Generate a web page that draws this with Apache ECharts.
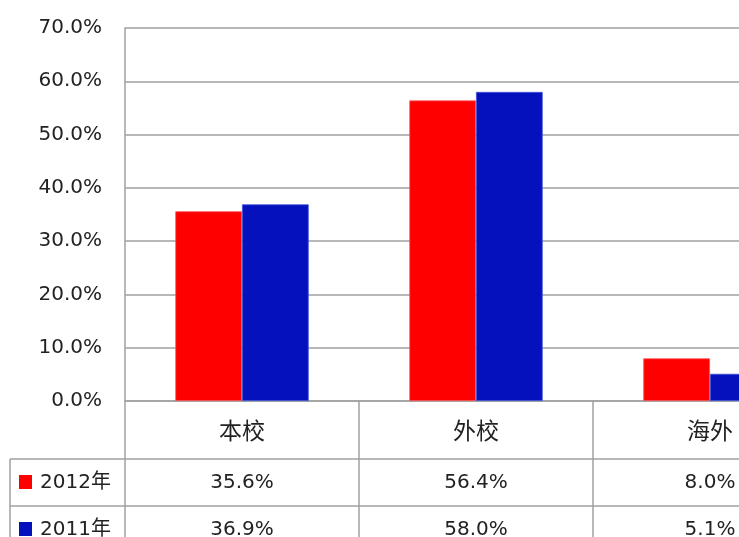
<!DOCTYPE html>
<html><head><meta charset="utf-8">
<script src="https://cdn.jsdelivr.net/npm/echarts@6/dist/echarts.min.js"></script>
<style>html,body{margin:0;padding:0;background:#fff}#c{width:739px;height:537px}</style>
</head><body><div id="c"></div>
<script>
const categories = ['本校', '外校', '海外'];
const seriesNames = ['2012年', '2011年'];
const values2012 = [35.6, 56.4, 8.0];
const values2011 = [36.9, 58.0, 5.1];
const colors = ['#FF0000', '#0511BC'];

const chart = echarts.init(document.getElementById('c'));
const numFont = 'DejaVu Sans, Verdana, sans-serif';
const cjkFont = 'Noto Sans CJK SC, sans-serif';
const lineColor = '#A0A0A0';

chart.setOption({
  animation: false,
  grid: { left: 125, width: 702, top: 28, bottom: 136, containLabel: false, outerBoundsMode: 'none' },
  xAxis: {
    type: 'category', data: categories,
    axisLine: { show: true, lineStyle: { color: lineColor, width: 1.5 } },
    axisTick: { show: false },
    axisLabel: { margin: 29, verticalAlign: 'middle', fontSize: 23, color: '#222', fontFamily: cjkFont }
  },
  yAxis: {
    type: 'value', min: 0, max: 70, interval: 10,
    axisLine: { show: true, lineStyle: { color: lineColor, width: 1.5 } },
    axisTick: { show: false },
    splitLine: { lineStyle: { color: lineColor, width: 1.5 } },
    axisLabel: { margin: 23, fontSize: 20, color: '#222', fontFamily: numFont, formatter: v => v.toFixed(1) + '%' }
  },
  series: [
    { name: seriesNames[0], type: 'bar', data: values2012, barGap: '0%', barCategoryGap: '43%',
      itemStyle: { color: colors[0], borderColor: '#FF5050', borderWidth: 0.8 } },
    { name: seriesNames[1], type: 'bar', data: values2011, barGap: '0%', barCategoryGap: '43%',
      itemStyle: { color: colors[1], borderColor: '#4050D8', borderWidth: 0.8 } }
  ]
});

// Data table below the axis
const y0 = chart.convertToPixel({ yAxisIndex: 0 }, 0);
const x0 = chart.convertToPixel({ xAxisIndex: 0 }, 0);
const x1 = chart.convertToPixel({ xAxisIndex: 0 }, 1);
const catW = x1 - x0;
const left = x0 - catW / 2;
const rowH0 = 58, rowH = 47;
const rowTop = [y0 + rowH0, y0 + rowH0 + rowH, y0 + rowH0 + 2 * rowH];
const tableLeft = 10, tableRight = left + catW * categories.length;
const elems = [];
const ls = { stroke: lineColor, lineWidth: 1.5 };
for (let i = 0; i <= categories.length; i++) {
  const x = left + catW * i;
  elems.push({ type: 'line', shape: { x1: x, y1: y0, x2: x, y2: rowTop[2] + 20 }, style: ls });
}
elems.push({ type: 'line', shape: { x1: tableLeft, y1: rowTop[0], x2: tableLeft, y2: rowTop[2] + 20 }, style: ls });
rowTop.forEach(y => elems.push({ type: 'line', shape: { x1: tableLeft, y1: y, x2: tableRight, y2: y }, style: ls }));
const rows = [values2012, values2011];
rows.forEach((vals, r) => {
  const cy = rowTop[r] + rowH / 2;
  elems.push({ type: 'rect', shape: { x: 19, y: cy - 7.5, width: 13, height: 14 }, style: { fill: colors[r] } });
  elems.push({ type: 'text', x: 40, y: cy, style: { text: seriesNames[r], fill: '#222', verticalAlign: 'middle', align: 'left', fontSize: 20, fontFamily: 'DejaVu Sans, Noto Sans CJK SC' } });
  vals.forEach((v, i) => {
    const cx = chart.convertToPixel({ xAxisIndex: 0 }, i);
    elems.push({ type: 'text', x: cx, y: cy, style: { text: v.toFixed(1) + '%', fontSize: 20, fontFamily: numFont, fill: '#222', align: 'center', verticalAlign: 'middle' } });
  });
});
chart.setOption({ graphic: { elements: elems } });
</script></body></html>
